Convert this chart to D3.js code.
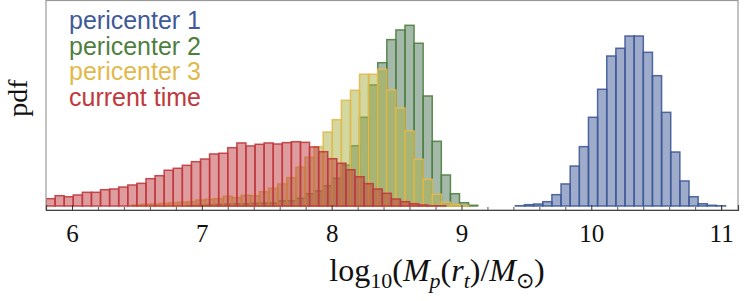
<!DOCTYPE html>
<html>
<head>
<meta charset="utf-8">
<script src="https://cdn.jsdelivr.net/npm/d3@7"></script>
<style>
  body { margin: 0; background: #fff; }
  svg { display: block; }
</style>
</head>
<body>
<div id="chart"></div>
<script>
// histogram pdfs (bin start, bin width, heights)
var redStart = 5.80, redWidth = 0.07;
var redPdf = [0.071, 0.100, 0.090, 0.107, 0.133, 0.133, 0.158, 0.165, 0.184, 0.204,
  0.220, 0.265, 0.294, 0.347, 0.366, 0.395, 0.430, 0.456, 0.505, 0.512,
  0.566, 0.612, 0.583, 0.599, 0.612, 0.602, 0.615, 0.624, 0.618, 0.573,
  0.527, 0.459, 0.415, 0.352, 0.284, 0.217, 0.165, 0.123, 0.068, 0.042,
  0.022, 0.010, 0.003, 0.002];

var yellowStart = 6.465, yellowWidth = 0.07;
var yellowPdf = [0.010, 0.017, 0.019, 0.026, 0.032, 0.036, 0.042, 0.058, 0.065, 0.071,
  0.094, 0.081, 0.104, 0.100, 0.139, 0.172, 0.214, 0.275, 0.376, 0.473,
  0.576, 0.718, 0.838, 1.026, 1.123, 1.279, 1.279, 1.327, 1.126, 0.951,
  0.728, 0.453, 0.259, 0.114, 0.036, 0.017, 0.003];

var greenStart = 6.885, greenWidth = 0.07;
var greenPdf = [0.005, 0.007, 0.010, 0.015, 0.019, 0.022, 0.022, 0.026, 0.029, 0.029,
  0.051, 0.051, 0.075, 0.119, 0.146, 0.197, 0.269, 0.398, 0.585, 0.861,
  1.175, 1.391, 1.615, 1.709, 1.754, 1.580, 1.068, 0.628, 0.301, 0.119,
  0.032, 0.007];

var blueStart = 9.415, blueWidth = 0.0704;
var bluePdf = [0.003, 0.013, 0.019, 0.042, 0.110, 0.214, 0.388, 0.576, 0.861, 1.133,
  1.456, 1.531, 1.650, 1.650, 1.492, 1.265, 0.909, 0.524, 0.243, 0.090,
  0.022, 0.007, 0.002];

var legendLabels = ["pericenter 1", "pericenter 2", "pericenter 3", "current time"];
var majorTicks = [6, 7, 8, 9, 10, 11];
var minorTicks = [5.8, 6.2, 6.4, 6.6, 6.8, 7.2, 7.4, 7.6, 7.8, 8.2, 8.4, 8.6, 8.8,
  9.2, 9.4, 9.6, 9.8, 10.2, 10.4, 10.6, 10.8, 11.0];

var svgWidth = 747;
var svgHeight = 301;

var plot = { left: 46, right: 738, top: 1, bottom: 210, barBase: 206 };

var serifFont = "Liberation Serif";
var sansFont = "Liberation Sans";

var svg = d3.select("#chart")
  .append("svg")
  .attr("width", svgWidth)
  .attr("height", svgHeight);

var x = d3.scaleLinear()
  .domain([5.8, 11.13])
  .range([plot.left, plot.right]);

var y = d3.scaleLinear()
  .domain([0, 1.99])
  .range([plot.barBase, plot.top]);

svg.append("clipPath")
  .attr("id", "clip")
  .append("rect")
  .attr("x", plot.left)
  .attr("y", plot.top)
  .attr("width", plot.right - plot.left)
  .attr("height", plot.bottom - plot.top);

// drawn in this order: blue at the back, red on top
var series = [
  { start: blueStart, width: blueWidth, values: bluePdf, stroke: "#3f5a98", fill: "rgba(62,88,150,0.5)" },
  { start: greenStart, width: greenWidth, values: greenPdf, stroke: "#4f7f3f", fill: "rgba(76,116,88,0.5)" },
  { start: yellowStart, width: yellowWidth, values: yellowPdf, stroke: "#e2b94c", fill: "rgba(168,176,66,0.5)" },
  { start: redStart, width: redWidth, values: redPdf, stroke: "#c0393d", fill: "rgba(192,57,62,0.5)" }
];

var barsGroup = svg.append("g").attr("clip-path", "url(#clip)");

series.forEach(function(s) {
  barsGroup.append("g")
    .selectAll("rect")
    .data(s.values)
    .enter()
    .append("rect")
    .attr("x", (d, i) => x(s.start + i * s.width))
    .attr("width", (d, i) => x(s.start + (i + 1) * s.width) - x(s.start + i * s.width))
    .attr("y", d => y(d))
    .attr("height", d => y(0) - y(d))
    .attr("fill", s.fill)
    .attr("stroke", s.stroke)
    .attr("stroke-width", 1.5)
    .attr("stroke-opacity", 0.9);
});

// frame
svg.append("rect")
  .attr("x", plot.left)
  .attr("y", plot.top - 0.5)
  .attr("width", plot.right - plot.left)
  .attr("height", plot.bottom - plot.top + 0.5)
  .attr("fill", "none")
  .attr("stroke", "#9a9a9a")
  .attr("stroke-width", 1.2);

// bottom axis, ticks pointing inside
var minorAxis = d3.axisBottom(x)
  .tickValues(minorTicks)
  .tickSize(-3)
  .tickFormat("");

var majorAxis = d3.axisBottom(x)
  .tickValues(majorTicks)
  .tickSize(-5)
  .tickPadding(14)
  .tickFormat(d3.format("d"));

svg.append("g")
  .attr("transform", `translate(0, ${plot.bottom})`)
  .call(minorAxis)
  .call(g => g.select(".domain").remove())
  .selectAll("line").attr("stroke", "#555");

var xAxis = svg.append("g")
  .attr("transform", `translate(0, ${plot.bottom})`)
  .attr("font-family", serifFont)
  .attr("font-size", 25)
  .call(majorAxis);

xAxis.select(".domain")
  .attr("stroke", "#444")
  .attr("stroke-width", 1.2);
xAxis.selectAll("line").attr("stroke", "#333");
xAxis.selectAll("text")
  .attr("fill", "#111")
  .attr("font-family", serifFont)
  .attr("font-size", 25);

// legend
svg.append("g")
  .selectAll("text")
  .data(legendLabels)
  .enter()
  .append("text")
  .attr("x", 69)
  .attr("y", (d, i) => 29 + i * 25.7)
  .attr("fill", (d, i) => series[i].stroke)
  .attr("font-family", sansFont)
  .attr("font-size", 25)
  .text(d => d);

// axis titles
var title = svg.append("text")
  .attr("x", 437)
  .attr("y", 281)
  .attr("text-anchor", "middle")
  .attr("fill", "#111")
  .attr("font-family", serifFont)
  .attr("font-size", 32);

function part(text, opts) {
  var t = title.append("tspan").text(text);
  if (opts && opts.italic) t.attr("font-style", "italic");
  if (opts && opts.sub) t.attr("dy", 7).attr("font-size", 22);
  if (opts && opts.up) t.attr("dy", -7);
  return t;
}

part("log");
part("10", { sub: true });
part("(", { up: true });
part("M", { italic: true });
part("p", { italic: true, sub: true });
part("(", { up: true });
part("r", { italic: true });
part("t", { italic: true, sub: true });
part(")/", { up: true });
part("M", { italic: true });
part("\u2299", { sub: true });
part(")", { up: true });

svg.append("text")
  .attr("transform", "translate(27, 98) rotate(-90)")
  .attr("text-anchor", "middle")
  .attr("fill", "#111")
  .attr("font-family", serifFont)
  .attr("font-size", 28)
  .text("pdf");
</script>
</body>
</html>
